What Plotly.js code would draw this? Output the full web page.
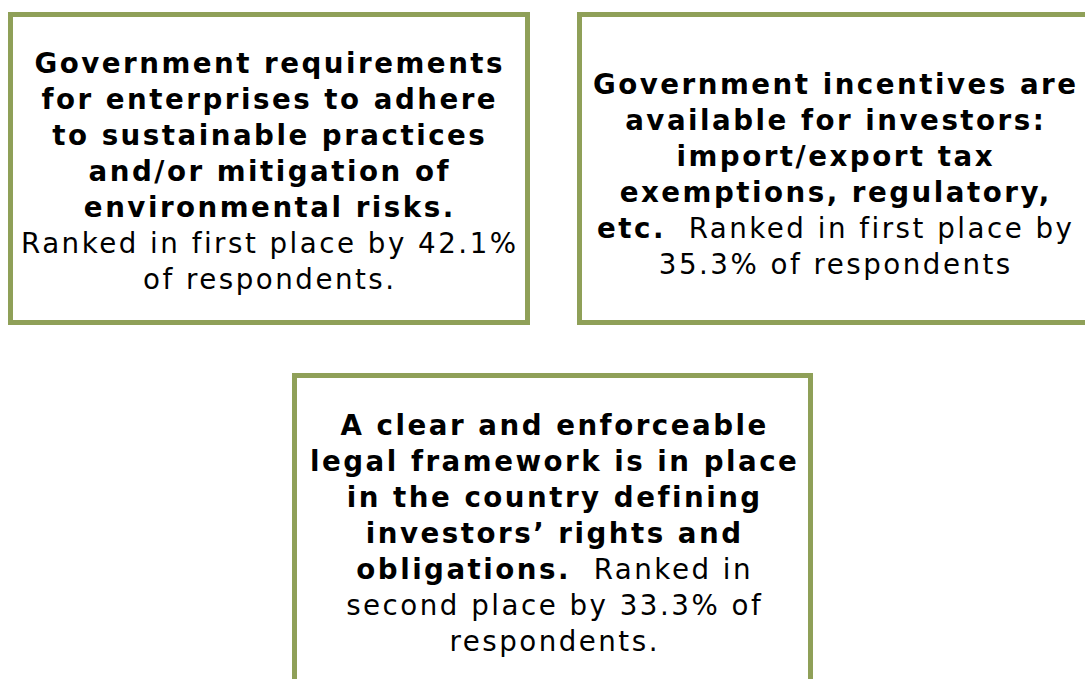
<!DOCTYPE html>
<html>
<head>
<meta charset="utf-8">
<script src="https://cdn.plot.ly/plotly-3.0.1.min.js"></script>
<style>
html,body{margin:0;padding:0;background:#fff;}
#chart{width:1085px;height:679px;}
text.annotation-text{letter-spacing:2.5px;}
</style>
</head>
<body>
<div id="chart"></div>
<script>
// Text content of the three boxes (line by line)
const headlineLines = [
  ["Government requirements", "for enterprises to adhere", "to sustainable practices", "and/or mitigation of", "environmental risks."],
  ["Government incentives are", "available for investors:", "import/export tax", "exemptions, regulatory,", "etc."],
  ["A clear and enforceable", "legal framework is in place", "in the country defining", "investors\u2019 rights and", "obligations."]
];
const rankingLines = [
  ["Ranked in first place by 42.1%", "of respondents."],
  ["Ranked in first place by", "35.3% of respondents"],
  ["Ranked in", "second place by 33.3% of", "respondents."]
];
// whether the ranking text starts on the same line as the last headline line
const rankInline = [false, true, true];

// Layout geometry (pixel coordinates)
const boxes = [
  {x0: 10.5, x1: 527.5, y0: 14.5, y1: 322.5, cx: 270, cy: 171.5},
  {x0: 579.5, x1: 1096.5, y0: 14.5, y1: 322.5, cx: 836, cy: 174},
  {x0: 294.5, x1: 810.5, y0: 375.5, y1: 690, cx: 554, cy: 533.5}
];

const borderColor = "#8fa058";
const fontFamily = "DejaVu Sans, Verdana, sans-serif";

function buildText(i) {
  const head = headlineLines[i].slice();
  const rank = rankingLines[i].slice();
  let lines = head.map(s => "<b>" + s + "</b>");
  if (rankInline[i]) {
    const last = lines.pop();
    lines.push(last + "  " + rank.shift());
  }
  lines = lines.concat(rank);
  return lines.join("<br>");
}

const shapes = boxes.map(b => ({
  type: "rect", xref: "x", yref: "y",
  x0: b.x0, x1: b.x1, y0: b.y0, y1: b.y1,
  line: {color: borderColor, width: 5},
  fillcolor: "rgba(0,0,0,0)"
}));

const annotations = boxes.map((b, i) => ({
  xref: "x", yref: "y", x: b.cx, y: b.cy,
  xanchor: "center", yanchor: "middle",
  text: buildText(i), showarrow: false, align: "center",
  font: {family: fontFamily, size: 27.7, color: "#000"}
}));

const layout = {
  width: 1085, height: 679,
  margin: {l: 0, r: 0, t: 0, b: 0},
  paper_bgcolor: "#fff", plot_bgcolor: "#fff",
  xaxis: {range: [0, 1085], visible: false, fixedrange: true},
  yaxis: {range: [679, 0], visible: false, fixedrange: true},
  shapes: shapes, annotations: annotations, showlegend: false
};

Plotly.newPlot("chart", [], layout, {displayModeBar: false, staticPlot: true});
</script>
</body>
</html>
